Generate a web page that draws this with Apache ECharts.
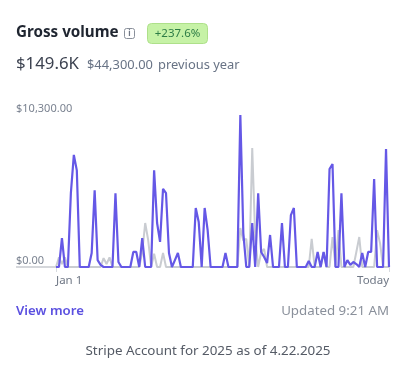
<!DOCTYPE html>
<html><head><meta charset="utf-8">
<style>html,body{margin:0;padding:0;background:#fff}#c{width:409px;height:366px}</style>
<script src="https://cdn.jsdelivr.net/npm/echarts@6/dist/echarts.min.js"></script></head>
<body><div id="c"></div>
<script>
const current = [0,0,1950,0,0,5000,7600,6550,0,0,0,0,950,5200,470,140,0,0,0,0,5000,340,0,0,0,0,1020,1020,0,1950,0,0,0,6550,2980,1700,5300,5000,950,0,470,950,0,0,0,0,0,4000,3050,0,4000,2500,0,0,0,0,0,950,0,0,0,0,10300,2300,0,0,2980,0,5000,1020,680,270,2170,0,0,0,2980,0,0,3520,4000,0,0,0,0,400,0,0,1020,0,1020,0,6640,6980,0,0,5000,0,470,140,340,200,0,950,0,1020,1020,5960,0,0,0,8000,0];
const previous = [0,650,200,650,0,0,0,0,0,0,0,0,0,0,0,0,600,200,650,0,0,0,0,0,0,0,0,0,0,1000,2980,1830,0,900,0,0,950,0,0,0,0,0,0,0,0,0,0,0,0,0,0,0,0,0,0,0,0,0,0,0,0,0,2640,1800,1900,0,8060,2000,0,1000,1220,0,0,0,0,0,0,0,0,0,0,0,0,0,0,0,1900,0,0,0,1000,0,0,2030,0,2500,0,0,0,0,0,1000,2030,0,0,0,0,0,2500,1600,0,0,0];
const dayLabels = current.map((_, i) => i === 0 ? 'Jan 1' : i === current.length - 1 ? 'Today' : '');
const yTicks = ['$0.00', '$10,300.00'];
const F = '"Noto Sans", sans-serif';
const txt = (x, y, text, size, color, weight, align) => ({type:'text', x, y, style:{text, font:`${weight||400} ${size}px ${F}`, fill:color, textAlign:align||'left', textVerticalAlign:'middle'}});
const chart = echarts.init(document.getElementById('c'), null, {renderer:'canvas'});
chart.setOption({
  animation:false,
  grid:{left:56,right:20,top:115,bottom:99},
  xAxis:{type:'category',data:dayLabels,boundaryGap:false,
    axisLine:{show:false},
    axisTick:{show:true,length:5,lineStyle:{color:'#d8dbe0',width:1},interval:(i)=>i===0||i===current.length-1},
    axisLabel:{interval:(i)=>i===0||i===current.length-1,margin:8,color:'#6f7785',fontSize:11.5,fontFamily:F,alignMinLabel:'left',alignMaxLabel:'right',hideOverlap:false},
    splitLine:{show:false}},
  yAxis:{type:'value',min:0,max:10300,interval:10300,axisLine:{show:false},axisTick:{show:false},splitLine:{show:false},
    axisLabel:{margin:40,align:'left',verticalAlign:'bottom',lineHeight:13,color:'#7a8290',fontSize:11,fontFamily:F,formatter:(v)=>v===0?yTicks[0]:yTicks[1]}},
  series:[
    {type:'line',data:previous,symbol:'none',smooth:false,z:2,lineStyle:{color:'#c9ccd1',width:2}},
    {type:'line',data:current,symbol:'none',smooth:false,z:3,lineStyle:{color:'#6558e6',width:2.2}}
  ],
  graphic:[
    {type:'rect',z:0,shape:{x:16,y:266,width:40,height:2},style:{fill:'#d5d7db'}},
    txt(16,33,'Gross volume',15.2,'#1f2530',700),
    {type:'rect',shape:{x:124.5,y:28.5,width:10,height:10,r:2},style:{fill:'#fff',stroke:'#8a909b',lineWidth:1}},
    txt(129.5,33.5,'i',8,'#6f7785',700,'center'),
    {type:'rect',shape:{x:147.5,y:23.5,width:60,height:20,r:4},style:{fill:'#c6f2a6',stroke:'#aee08a',lineWidth:1}},
    txt(177.5,33.5,'+237.6%',11.5,'#2e7d46',400,'center'),
    txt(16,64,'$149.6K',16.8,'#3c4250',400),
    txt(87,65,'$44,300.00',12.9,'#687385',400),
    txt(158,65,'previous year',12.9,'#687385',400),
    txt(16,311,'View more',13.2,'#5b50e0',600),
    txt(389,311,'Updated 9:21 AM',13.3,'#8a909b',400,'right'),
    txt(208,351,'Stripe Account for 2025 as of 4.22.2025',13.4,'#555b66',400,'center')
  ]
});
</script></body></html>
